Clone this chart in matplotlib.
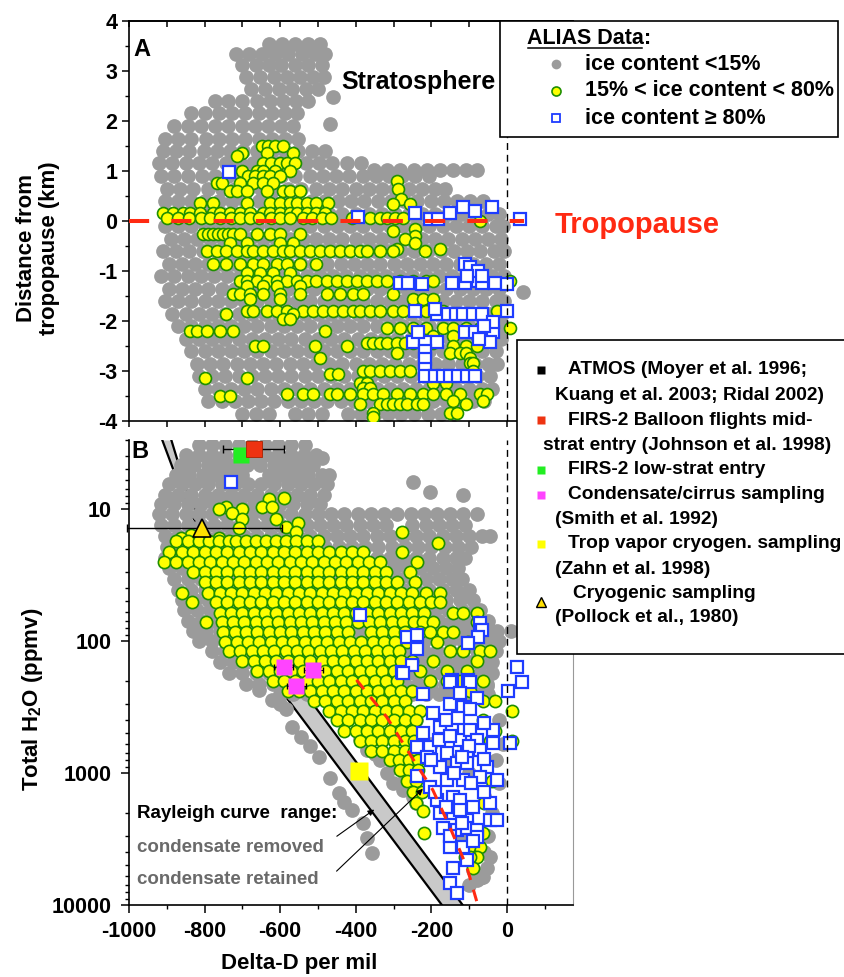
import matplotlib
matplotlib.use("Agg")
import matplotlib.pyplot as plt
from matplotlib import ticker
from matplotlib.lines import Line2D
from matplotlib.patches import Rectangle

plt.rcParams["font.family"] = ["Liberation Sans", "DejaVu Sans"]
plt.rcParams["font.weight"] = "bold"
plt.rcParams["axes.unicode_minus"] = False
plt.rcParams["mathtext.fontset"] = "custom"
plt.rcParams["mathtext.rm"] = "Liberation Sans:bold"
plt.rcParams["mathtext.bf"] = "Liberation Sans:bold"
plt.rcParams["mathtext.default"] = "rm"

# ---- panel A: delta-D vs distance from tropopause (km), rows of (km, [deltaD...])
A_GRAY_ROWS = [
    (3.55, [-630, -595, -560, -525, -495]),
    (3.35, [-718, -683, -648, -613, -578, -543, -508, -480]),
    (3.12, [-700, -665, -630, -598, -560, -525, -490]),
    (2.88, [-690, -652, -617, -582, -547, -512, -485]),
    (2.64, [-676, -640, -603, -568, -532, -500]),
    (2.48, [-460]),
    (2.4, [-772, -737, -702, -662, -627, -592, -557, -525]),
    (2.16, [-836, -800, -762, -727, -692, -657, -622, -587, -555]),
    (1.94, [-468]),
    (1.9, [-880, -845, -810, -772, -737, -702, -667, -632, -597, -565]),
    (1.65, [-905, -870, -835, -797, -762, -727, -692, -657, -622, -587, -552]),
    (1.4, [-910, -875, -840, -802, -767, -732, -697, -662, -622, -587, -552, -517, -482]),
    (1.17, [-920, -885, -850, -815, -780, -742, -707, -672, -637, -602, -567, -532, -497, -462, -422, -387]),
    (1.03, [-352, -317, -282, -247, -212, -177, -142, -107, -80]),
    (0.9, [-915, -880, -845, -807, -772, -737, -702, -667, -632, -597, -562, -522, -487, -452, -417, -382,
           -347, -312, -277, -242, -207]),
    (0.65, [-900, -865, -830, -790, -755, -720, -685, -650, -615, -580, -545, -505, -470, -435, -400, -365,
            -330, -295, -260, -225, -190, -165]),
    (0.4, [-905, -870, -835, -800, -762, -727, -692, -657, -622, -587, -552, -517, -482, -447, -412, -377,
           -342, -307, -272, -237, -202, -167, -132, -97, -62]),
    (0.15, [-890, -855, -820, -785, -750, -715, -680, -645, -610, -575, -540, -505, -470, -435, -400, -365,
            -330, -295, -260, -225, -190, -155, -120, -85, -50, -20]),
    (-0.1, [-905, -870, -835, -800, -765, -730, -695, -660, -625, -590, -555, -520, -485, -450, -415, -380,
            -345, -310, -275, -240, -205, -170, -135, -100, -65, -30, -10]),
    (-0.35, [-890, -855, -820, -785, -750, -715, -680, -645, -610, -575, -540, -505, -470, -435, -400, -365,
             -330, -295, -260, -225, -190, -155, -120, -85, -50, -15]),
    (-0.6, [-910, -875, -840, -805, -770, -735, -700, -665, -630, -595, -560, -525, -490, -455, -420, -385,
            -350, -315, -280, -245, -210, -175, -140, -105, -70, -35, -8]),
    (-0.85, [-895, -860, -825, -790, -755, -720, -685, -650, -615, -580, -545, -510, -475, -440, -405, -370,
             -335, -300, -265, -230, -195, -160, -125, -90, -55, -20]),
    (-1.1, [-915, -880, -845, -810, -775, -740, -705, -670, -635, -600, -565, -530, -495, -460, -425, -390,
            -355, -320, -285, -250, -215, -180, -145, -110, -75, -40, -8]),
    (-1.35, [-895, -860, -825, -790, -755, -720, -685, -650, -615, -580, -545, -510, -475, -440, -405, -370,
             -335, -300, -265, -230, -195, -160, -125, -90, -55, -20]),
    (-1.42, [42]),
    (-1.6, [-905, -870, -835, -800, -765, -730, -695, -660, -625, -590, -555, -520, -485, -450, -415, -380,
            -345, -310, -275, -240, -205, -170, -135, -100, -65, -30, -8]),
    (-1.85, [-885, -850, -815, -780, -745, -710, -675, -640, -605, -570, -535, -500, -465, -430, -395, -360,
             -325, -290, -255, -220, -185, -150, -115, -80, -45, -12]),
    (-2.1, [-870, -835, -800, -765, -730, -695, -660, -625, -590, -555, -520, -485, -450, -415, -380, -345,
            -310, -275, -240, -205, -170, -135, -100, -65, -30, -10]),
    (-2.35, [-850, -815, -780, -745, -710, -675, -640, -605, -570, -535, -500, -465, -430, -395, -360, -325,
             -290, -255, -220, -185, -150, -115, -80, -45, -15]),
    (-2.6, [-835, -800, -765, -730, -695, -660, -625, -590, -555, -520, -485, -450, -415, -380, -345, -310,
            -275, -240, -205, -170, -135, -100, -65, -30]),
    (-2.85, [-820, -785, -750, -715, -680, -645, -610, -575, -540, -505, -470, -435, -400, -365, -330, -295,
             -260, -225, -190, -155, -120, -85, -50, -25]),
    (-3.1, [-815, -780, -745, -710, -675, -640, -605, -570, -535, -500, -465, -430, -395, -360, -325, -290,
            -255, -220, -185, -150, -115, -80, -45]),
    (-3.35, [-800, -765, -730, -695, -660, -625, -590, -555, -520, -485, -450, -415, -380, -345, -310, -275,
             -240, -205, -170, -135, -100, -65, -40]),
    (-3.6, [-790, -755, -720, -685, -650, -615, -580, -545, -510, -475, -440, -405, -370, -335, -300, -265,
            -230, -195, -160, -125, -90, -60]),
    (-3.85, [-700, -665, -630, -560, -525, -490, -420, -385, -350, -315, -280, -245, -210, -175, -140]),
]

A_YELLOW_ROWS = [
    (1.51, [-649, -631, -614, -592]),
    (1.37, [-702, -636, -565]),
    (1.31, [-715]),
    (1.17, [-645, -623, -601, -583, -561]),
    (1.01, [-702, -662, -645, -614, -574]),
    (0.91, [-684, -666, -645, -627, -600]),
    (0.81, [-292]),
    (0.77, [-768, -755, -706, -671, -645, -620]),
    (0.64, [-287]),
    (0.6, [-733, -715, -689, -636, -592, -574, -548]),
    (0.44, [-279]),
    (0.37, [-812, -777, -689, -627, -600, -574, -556, -530, -504, -473]),
    (0.34, [-301, -257]),
    (0.17, [-909, -883, -856, -838, -812, -777, -759, -733, -706, -680, -645, -627, -600, -574, -556, -530,
            -504, -481]),
    (0.07, [-900, -870, -840, -810, -785, -760, -730, -705, -680, -655, -625, -600, -575, -540, -515, -490,
            -465, -410, -362, -335, -318, -297, -275]),
    (0.0, [-71]),
    (-0.16, [-243]),
    (-0.19, [-301]),
    (-0.26, [-803, -790, -777, -764, -750, -737, -724, -706, -662, -627, -600, -548]),
    (-0.29, [-243]),
    (-0.36, [-270]),
    (-0.43, [-733, -689, -600, -565, -243]),
    (-0.56, [-292, -177]),
    (-0.59, [-794, -768, -742, -715, -689, -671, -645, -618, -592, -574, -548, -521, -495, -468, -442, -415,
             -389, -371, -336, -301, -217]),
    (-0.86, [-777, -742, -706, -671, -645, -609, -583, -548, -504]),
    (-1.03, [-689, -653, -618, -574]),
    (-1.2, [-706, -689, -662, -636, -609, -583, -556, -530, -504, -477, -450, -424, -397, -371, -345, -318,
            -283, -248, -213, -195, 8]),
    (-1.29, [-689, -645, -609, -548]),
    (-1.46, [-724, -706, -680, -645, -600, -548, -477, -442, -407, -380, -301]),
    (-1.56, [-680, -600, -248, -221, -195]),
    (-1.79, [-689, -671, -636, -609, -583, -539, -512, -486, -459, -433, -406, -389, -362, -336, -301, -274,
             -213, -168, -27]),
    (-1.86, [-742, -565]),
    (-1.96, [-592, -574]),
    (-2.13, [-318, -283, -248, -213, -168, -142, -107, -71, 8]),
    (-2.2, [-838, -821, -794, -759, -724, -481]),
    (-2.29, [-195, -142, -80]),
    (-2.43, [-371, -354, -336, -318, -292, -270, -248, -195]),
    (-2.49, [-667, -645, -508, -424, -142, -107, -80]),
    (-2.63, [-292, -151, -124, -107]),
    (-2.73, [-495, -98]),
    (-2.83, [-98, -89]),
    (-2.99, [-380, -362, -336, -310, -283, -257, -89]),
    (-3.06, [-468, -446]),
    (-3.13, [-799, -689]),
    (-3.23, [-389, -371, -195, -160]),
    (-3.33, [-380, -362]),
    (-3.46, [-583, -539, -512, -468, -450, -415, -380, -354, -327, -292, -257, -221, -195, -160, -124, -71,
             -53]),
    (-3.5, [-759, -733]),
    (-3.59, [-142, -62]),
    (-3.66, [-389, -336, -318, -301, -283, -265, -239, -221, -107]),
    (-3.83, [-354, -151, -133]),
    (-3.92, [-353]),
]

A_BLUE = [
    (-735, 0.99), (-394, 0.08), (-243, 0.17), (-204, 0.04), (-183, 0.04), (-151, 0.17), (-116, 0.28),
    (-85, 0.2), (-40, 0.28), (34, 0.04),
    (-283, -1.23), (-262, -1.23), (-225, -1.25), (-146, -1.23), (-111, -1.23), (-77, -1.2), (-66, -1.23),
    (-32, -1.23), (0, -1.25),
    (-111, -0.86), (-98, -0.92), (-77, -1.0), (-106, -1.1), (-66, -1.1),
    (-243, -1.8), (-185, -1.85), (-156, -1.85), (-135, -1.85), (-116, -1.85), (-90, -1.85), (-66, -1.85),
    (0, -1.8), (-190, -1.75),
    (-111, -2.22), (-85, -2.22), (-53, -2.22), (-37, -2.22), (-37, -2.02), (-60, -2.1),
    (-248, -2.42), (-217, -2.42), (-185, -2.42), (-45, -2.42), (-235, -2.22), (-75, -2.35),
    (-217, -2.6), (-217, -2.76), (-217, -2.96),
    (-217, -3.1), (-190, -3.1), (-169, -3.1), (-151, -3.1), (-130, -3.1), (-106, -3.1), (-85, -3.1),
]

TROPOPAUSE_KM = 0.0
TROPOPAUSE_END_DD = 45

# ---- panel B: delta-D vs total water (ppmv), rows of (ppmv, [deltaD...])
B_GRAY_ROWS = [
    (3.3, [-815, -780, -745, -710, -675, -640, -605, -570, -535]),
    (3.9, [-850, -815, -780, -745, -710, -675, -640, -605, -570, -538, -505]),
    (4.1, [-488]),
    (4.6, [-862, -827, -792, -757, -722, -687, -652, -617, -582, -547, -512]),
    (5.5, [-875, -840, -805, -770, -735, -700, -630, -595, -560, -525, -490, -470]),
    (6.2, [-249]),
    (6.5, [-895, -860, -825, -790, -755, -720, -685, -650, -615, -580, -545, -510, -475]),
    (7.4, [-204]),
    (7.8, [-905, -870, -835, -800, -765, -730, -695, -660, -625, -590, -555, -520, -485, -117]),
    (9.2, [-915, -880, -845, -810, -775, -740, -705, -670, -635, -600, -565, -530, -495]),
    (11, [-920, -885, -850, -815, -780, -745, -710, -675, -640, -605, -570, -535, -500, -465, -430, -395,
          -360, -325, -290, -255, -220, -185, -150, -115, -80]),
    (13.3, [-915, -880, -845, -810, -775, -740, -705, -670, -635, -600, -565, -530, -495, -460, -425, -390,
            -355, -320, -250, -215, -180, -145, -110]),
    (16, [-905, -870, -835, -800, -765, -730, -695, -660, -625, -590, -555, -520, -485, -450, -415, -380,
          -345, -310, -275, -240, -205, -170, -135, -100, -65, -45]),
    (19.5, [-900, -865, -830, -795, -760, -725, -690, -655, -620, -585, -550, -515, -480, -445, -410, -375,
            -340, -305, -270, -235, -200, -165, -130, -95]),
    (23.5, [-905, -870, -835, -800, -765, -730, -695, -660, -625, -590, -555, -520, -485, -450, -415, -380,
            -345, -310, -275, -240, -205, -170, -135, -110]),
    (28, [-895, -860, -825, -790, -755, -720, -685, -650, -615, -580, -545, -510, -475, -440, -405, -370,
          -335, -300, -265, -230, -195, -160, -130]),
    (34, [-880, -845, -810, -775, -740, -705, -670, -635, -600, -565, -530, -495, -460, -425, -390, -355,
          -320, -285, -250, -215, -180, -145, -120]),
    (41, [-870, -835, -800, -765, -730, -695, -660, -625, -590, -555, -520, -485, -450, -415, -380, -345,
          -310, -275, -240, -205, -170, -135, -100]),
    (49, [-860, -825, -790, -755, -720, -685, -650, -615, -580, -545, -510, -475, -440, -405, -370, -335,
          -300, -265, -230, -195, -160, -125, -90]),
    (58, [-855, -820, -785, -750, -715, -680, -645, -610, -575, -540, -505, -470, -435, -400, -365, -330,
          -295, -260, -225, -190, -155, -120, -85, -70]),
    (70, [-845, -810, -775, -740, -705, -670, -635, -600, -565, -530, -495, -460, -425, -390, -355, -320,
          -285, -250, -215, -180, -145, -110, -75, -50]),
    (84, [-830, -795, -760, -725, -690, -655, -620, -585, -550, -515, -480, -445, -410, -375, -340, -305,
          -270, -235, -200, -165, -130, -95, -60, -25, 10]),
    (100, [-815, -780, -745, -710, -675, -640, -605, -570, -535, -500, -465, -430, -395, -360, -325, -290,
           -255, -220, -185, -150, -115, -80, -45, -20]),
    (120, [-780, -745, -710, -675, -640, -605, -570, -535, -500, -465, -430, -395, -360, -325, -290, -255,
           -220, -185, -150, -115, -80, -45, -30]),
    (145, [-760, -725, -690, -655, -620, -585, -550, -515, -480, -445, -410, -375, -340, -305, -270, -235,
           -200, -165, -130, -95, -60, -40]),
    (175, [-735, -700, -665, -630, -595, -560, -525, -490, -455, -420, -385, -350, -315, -280, -245, -210,
           -175, -140, -105, -70, -40]),
    (210, [-690, -655, -620, -585, -550, -515, -480, -445, -410, -375, -340, -305, -270, -235, -200, -165,
           -130, -95, -53]),
    (250, [-600, -565, -530, -495, -460, -425, -390, -355, -320, -285, -250, -215, -180, -145, -110, -75,
           -50]),
]

B_GRAY_SCATTER = [
    (-655, 236), (-621, 280), (-600, 300), (-584, 330), (-568, 447), (-544, 532), (-520, 620), (-496, 757),
    (-469, 1090), (-443, 1410), (-430, 1670), (-410, 1900), (-382, 2390), (-371, 3130), (-358, 4040),
    (-390, 550), (-371, 670), (-350, 720), (-337, 800), (-318, 1000), (-300, 900), (-302, 1200),
    (-270, 1100), (-276, 1340), (-249, 1520), (-240, 1700),
    (-240, 400), (-200, 600), (-150, 800), (-100, 1000), (-60, 1500), (-40, 2000), (-50, 3000),
    (-60, 4000), (-80, 6450), (-45, 4350), (-53, 5200), (-63, 6100), (-72, 6240), (-90, 5400),
    (-100, 7000), (-120, 3000), (-20, 1200), (-30, 800), (-10, 600), (-20, 400), (-53, 220),
]

B_YELLOW_ROWS = [
    (8.2, [-589]), (8.4, [-629]), (9.6, [-743, -647, -621]), (10, [-761, -700]), (10.7, [-727]),
    (11.9, [-700, -610]), (12.8, [-554]), (13.7, [-584]), (13.9, [-708]), (14.9, [-557]),
    (15, [-278]), (15.7, [-836]), (16.5, [-862, -761]), (18, [-183]),
    (17.5, [-875, -845, -815, -788, -761, -735, -716, -690, -663, -637, -610, -584, -557, -530, -500]),
    (21, [-894, -860, -830, -800, -770, -740, -710, -680, -650, -620, -590, -560, -530, -500, -470, -440,
          -410, -380, -278]),
    (25, [-907, -875, -845, -815, -785, -755, -725, -695, -665, -635, -605, -575, -545, -515, -485, -455,
          -425, -395, -365, -335, -239]),
    (30, [-830, -800, -770, -740, -710, -680, -650, -620, -590, -560, -530, -500, -470, -440, -410, -380,
          -350, -320, -257]),
    (36, [-800, -770, -740, -710, -680, -650, -620, -590, -560, -530, -500, -470, -440, -410, -380, -350,
          -320, -290, -244]),
    (43, [-860, -790, -760, -730, -700, -670, -640, -610, -580, -550, -520, -490, -460, -430, -400, -370,
          -340, -310, -280, -250, -215, -178]),
    (51, [-833, -770, -740, -710, -680, -650, -620, -590, -560, -530, -500, -470, -440, -410, -380, -350,
          -320, -290, -260, -230, -200, -178]),
    (61, [-760, -730, -700, -670, -640, -610, -580, -550, -520, -490, -460, -430, -400, -370, -340, -310,
          -280, -250, -220, -143, -117, -80]),
    (72, [-796, -755, -725, -695, -665, -635, -605, -575, -545, -515, -485, -455, -425, -395, -365, -335,
          -305, -275, -245, -223, -196, -80]),
    (86, [-750, -720, -690, -660, -630, -600, -570, -540, -510, -480, -450, -420, -360, -330, -300, -270,
          -231, -204, -170, -143]),
    (102, [-745, -715, -685, -655, -625, -595, -565, -535, -505, -475, -445, -415, -385, -355, -325, -295,
           -265, -186, -103]),
    (120, [-735, -705, -675, -645, -615, -585, -555, -525, -495, -465, -435, -405, -375, -345, -315, -285,
           -151, -117, -71, -45]),
    (142, [-700, -670, -640, -610, -580, -550, -520, -490, -460, -430, -400, -370, -340, -310, -280, -250,
           -196, -80]),
    (168, [-660, -630, -600, -570, -540, -510, -480, -450, -420, -390, -360, -330, -300, -231, -159, -106]),
    (200, [-620, -590, -560, -530, -500, -470, -440, -410, -380, -350, -320, -290, -204, -159, -124, -63]),
    (240, [-580, -550, -520, -490, -460, -430, -400, -370, -340, -310, -280, -250, -98]),
    (285, [-510, -480, -450, -420, -390, -360, -330, -300, -270, -63, -32]),
    (340, [-470, -440, -410, -380, -350, -320, -290, -260, -230, 13]),
    (400, [-450, -420, -390, -360, -330, -300, -270, -240, -63]),
    (480, [-430, -400, -370, -340, -310, -280, -250, -32]),
    (570, [-390, -360, -330, -300, -270, -245, -45, 13]),
    (680, [-360, -330, -300, -270, -245]),
    (800, [-310, -285, -260, -235]),
    (950, [-284, -260, -235]),
    (1150, [-265, -240, -40]),
    (1400, [-249, -225]),
    (1700, [-240, -60]),
    (1950, [-223]),
    (2850, [-218, -63]),
    (3650, [-71, -100]),
    (4350, [-80, -98, -112]),
    (5200, [-90]),
]

B_BLUE = [
    (-729, 6.2), (-390, 63.5),
    (-265, 93), (-239, 90), (-239, 115), (-278, 172), (-252, 152), (-276, 175),
    (-71, 73), (-66, 83), (-77, 93), (-103, 103),
    (27, 157), (40, 205), (3, 240), (8, 595),
    (-146, 197), (-103, 197), (-151, 205), (-98, 205),
    (-223, 250), (-151, 300), (-124, 248), (-80, 270), (-117, 315), (-196, 350), (-98, 330),
    (-223, 500), (-178, 445), (-146, 445), (-124, 563), (-98, 473), (-37, 473), (-80, 563), (-37, 595),
    (-239, 635), (-204, 635), (-159, 710), (-106, 710), (-71, 670), (-212, 760), (-178, 900),
    (-133, 840), (-106, 840), (-53, 900),
    (-239, 1050), (-204, 1270), (-159, 1130), (-117, 1130), (-71, 1070), (-27, 1130),
    (-186, 1600), (-143, 1520), (-124, 1600), (-90, 1800), (-45, 1700), (-45, 2260), (-27, 2260),
    (-178, 2000), (-143, 2000), (-106, 2260), (-170, 2600), (-133, 2700), (-106, 2600), (-80, 2700),
    (-151, 3650), (-117, 3650), (-80, 3050), (-143, 5200), (-106, 4550), (-151, 6800), (-133, 8100),
    (-160, 400), (-130, 380), (-60, 420), (-180, 560), (-150, 520), (-100, 620), (-60, 780),
    (-190, 1400), (-160, 1800), (-60, 1400), (-120, 2400), (-90, 3300), (-150, 3000), (-125, 1900),
    (-95, 1200), (-140, 1000), (-200, 800), (-120, 750),
]

# literature points: (deltaD, ppmv, err_low, err_high)
FIRS2_MID = (-668, 3.5, 83, 79)
FIRS2_LOW = (-703, 3.9)
CIRRUS_DD = [-590, -557, -512]
CIRRUS_H2O = [157, 220, 166]
ZAHN = (-392, 970)
POLLOCK = (-806, 14, 200, 212)

# Rayleigh range and condensate-retained curve
RAYLEIGH_H2O = [3, 8.5, 40, 172, 10000]
RAYLEIGH_REMOVED = [-912, -853, -740, -634, -172]
RAYLEIGH_RETAINED = [-888, -840, -705, -576, -117]
RETAINED_DD = [-398, -318, -252, -196, -151, -106, -77]
RETAINED_H2O = [197, 377, 757, 1345, 2563, 5150, 10000]

GRAY = "#9b9b9b"
YELLOW = "#ffff00"
GREEN = "#1f8f00"
BLUE = "#1e3cff"
RED = "#ff2a12"
XLIM = (-1000, 175)

W, H = 844, 977


def unpack(rows):
    xs = [x for _, row in rows for x in row]
    ys = [y for y, row in rows for _ in row]
    return xs, ys


fig = plt.figure(figsize=(W / 100, H / 100), dpi=100)


def fx(px):
    return px / W


def fy(py):
    return 1 - py / H


def put(px, py, s, **kw):
    kw.setdefault("va", "center")
    kw.setdefault("weight", "bold")
    fig.text(fx(px), fy(py), s, **kw)


ax_a = fig.add_axes([fx(129), fy(421), fx(573) - fx(129), fy(21) - fy(421)])
ax_b = fig.add_axes([fx(129), fy(905), fx(573) - fx(129), fy(440) - fy(905)])

# ---- panel A
gx, gy = unpack(A_GRAY_ROWS)
ax_a.plot(gx, gy, "o", ms=10.6, mfc=GRAY, mec="none", zorder=2)
yx, yy = unpack(A_YELLOW_ROWS)
ax_a.plot(yx, yy, "o", ms=8.6, mfc=YELLOW, mec=GREEN, mew=1.2, zorder=3)
ax_a.plot([p[0] for p in A_BLUE], [p[1] for p in A_BLUE], "s", ms=8.4, mfc="white",
          mec=BLUE, mew=1.6, zorder=4)
ax_a.hlines(TROPOPAUSE_KM, XLIM[0], TROPOPAUSE_END_DD, color=RED, lw=2.9,
            linestyles=(0, (5, 5.5)), zorder=6)
ax_a.axvline(0, color="k", lw=1, dashes=(5, 3.5), zorder=7)

ax_a.set_xlim(*XLIM)
ax_a.set_ylim(-4, 4)
ax_a.spines["right"].set_visible(False)
for s in ("left", "bottom", "top"):
    ax_a.spines[s].set_linewidth(1.2)
ax_a.yaxis.set_major_locator(ticker.MultipleLocator(1))
ax_a.yaxis.set_minor_locator(ticker.MultipleLocator(0.5))
ax_a.xaxis.set_major_locator(ticker.MultipleLocator(100))
ax_a.tick_params(axis="y", which="major", direction="out", length=5, width=1.1,
                 labelsize=15.5, pad=3.5)
ax_a.tick_params(axis="y", which="minor", direction="out", length=3, width=1)
ax_a.tick_params(axis="x", which="major", direction="out", length=4.5, width=1.1,
                 labelbottom=False)
top = ax_a.secondary_xaxis("top")
top.xaxis.set_major_locator(ticker.MultipleLocator(100))
top.tick_params(direction="in", length=4.5, width=1.1, labeltop=False)
top.spines["top"].set_linewidth(1.2)

# ---- panel B
ax_b.set_yscale("log")
ax_b.fill_betweenx(RAYLEIGH_H2O, RAYLEIGH_REMOVED, RAYLEIGH_RETAINED, color="#c9c9c9", lw=0, zorder=1)
ax_b.plot(RAYLEIGH_REMOVED, RAYLEIGH_H2O, color="k", lw=1.6, zorder=1.2)
ax_b.plot(RAYLEIGH_RETAINED, RAYLEIGH_H2O, color="k", lw=1.6, zorder=1.2)

gx, gy = unpack(B_GRAY_ROWS)
gx += [p[0] for p in B_GRAY_SCATTER]
gy += [p[1] for p in B_GRAY_SCATTER]
ax_b.plot(gx, gy, "o", ms=10.6, mfc=GRAY, mec="none", zorder=2)
yx, yy = unpack(B_YELLOW_ROWS)
ax_b.plot(yx, yy, "o", ms=8.8, mfc=YELLOW, mec=GREEN, mew=1.2, zorder=3)
ax_b.plot([p[0] for p in B_BLUE], [p[1] for p in B_BLUE], "s", ms=9, mfc="white",
          mec=BLUE, mew=1.6, zorder=4)

ax_b.errorbar(FIRS2_MID[0], FIRS2_MID[1], xerr=[[FIRS2_MID[2]], [FIRS2_MID[3]]], fmt="none",
              ecolor="k", elinewidth=1, capsize=3, zorder=5)
ax_b.plot(FIRS2_LOW[0], FIRS2_LOW[1], "s", ms=11.5, mfc="#22ee22", mec="none", zorder=5)
ax_b.plot(FIRS2_MID[0], FIRS2_MID[1], "s", ms=11.5, mfc="#ee3311", mec="#aa2200", mew=0.6, zorder=5.1)
ax_b.errorbar(CIRRUS_DD, CIRRUS_H2O, xerr=25, fmt="none", ecolor="k", elinewidth=0.8, capsize=2,
              zorder=5)
ax_b.plot(CIRRUS_DD, CIRRUS_H2O, "s", ms=11, mfc="#ff44ff", mec="none", zorder=5)
ax_b.plot(ZAHN[0], ZAHN[1], "s", ms=13, mfc="#ffff00", mec="none", zorder=5)
ax_b.errorbar(POLLOCK[0], POLLOCK[1], xerr=[[POLLOCK[2]], [POLLOCK[3]]], fmt="none", ecolor="k",
              elinewidth=1, capsize=3, zorder=5, clip_on=False)
ax_b.plot(POLLOCK[0], POLLOCK[1], "^", ms=13, mfc="#ffe000", mec="k", mew=1.2, zorder=5.2)

ax_b.plot(RETAINED_DD, RETAINED_H2O, color=RED, lw=2.2, dashes=(3.9, 3.3), zorder=6)
ax_b.axvline(0, color="k", lw=1, dashes=(5, 3.5), zorder=7)

ax_b.annotate("", xy=(-345, 1840), xytext=(-456, 3100),
              arrowprops=dict(arrowstyle="-|>", color="k", lw=0.8, mutation_scale=9), zorder=8)
ax_b.annotate("", xy=(-217, 1275), xytext=(-456, 5730),
              arrowprops=dict(arrowstyle="-|>", color="k", lw=0.8, mutation_scale=9), zorder=8)

ax_b.set_xlim(*XLIM)
ax_b.set_ylim(10000, 3)
ax_b.spines["top"].set_visible(False)
ax_b.spines["right"].set_color("#999999")
ax_b.spines["right"].set_linewidth(0.8)
for s in ("left", "bottom"):
    ax_b.spines[s].set_linewidth(1.2)
ax_b.set_yticks([10, 100, 1000, 10000])
ax_b.yaxis.set_major_formatter(ticker.FuncFormatter(lambda v, _: f"{v:g}"))
ax_b.yaxis.set_minor_locator(ticker.LogLocator(base=10, subs=range(2, 10)))
ax_b.yaxis.set_minor_formatter(ticker.NullFormatter())
ax_b.xaxis.set_major_locator(ticker.FixedLocator([-1000, -800, -600, -400, -200, 0]))
ax_b.xaxis.set_minor_locator(ticker.MultipleLocator(100))
ax_b.tick_params(axis="both", which="major", direction="out", length=5.5, width=1.1, labelsize=15.5)
ax_b.tick_params(axis="y", which="major", pad=7)
ax_b.tick_params(axis="x", which="major", pad=6)
ax_b.tick_params(axis="both", which="minor", direction="out", length=3, width=1)

# ---- labels and annotations
put(142, 50, "A", fontsize=17, ha="center")
put(140, 452, "B", fontsize=17, ha="center")
put(418, 82, "Stratosphere", fontsize=18, ha="center")
put(637, 225, "Tropopause", fontsize=21, ha="center", color=RED)
put(38, 248, "Distance from\ntropopause (km)", fontsize=16, ha="center", rotation=90,
    linespacing=1.15)
put(33, 699, "Total H$_2$O (ppmv)", fontsize=16, ha="center", rotation=90)
put(299, 963, "Delta-D per mil", fontsize=16, ha="center")
put(137, 813, "Rayleigh curve  range:", fontsize=13.5, ha="left")
put(137, 847, "condensate removed", fontsize=13.5, ha="left", color="#6a6a6a")
put(137, 879, "condensate retained", fontsize=13.5, ha="left", color="#6a6a6a")

# ---- legend for panel A
fig.add_artist(Rectangle((fx(500), fy(137)), fx(838) - fx(500), fy(21) - fy(137),
                         transform=fig.transFigure, fc="white", ec="k", lw=1.2, zorder=10))
put(527, 38, "ALIAS Data:", fontsize=15.5, ha="left", zorder=11)
fig.add_artist(Line2D([fx(528), fx(642)], [fy(48), fy(48)], transform=fig.transFigure,
                      color="k", lw=1.1, zorder=11))
legend_a = [
    (64, "ice content <15%", dict(marker="o", ms=7, mfc=GRAY, mec="none")),
    (91, "15% < ice content < 80%", dict(marker="o", ms=6.5, mfc=YELLOW, mec=GREEN, mew=1.2)),
    (118, "ice content \u2265 80%", dict(marker="s", ms=6, mfc="white", mec=BLUE, mew=1.3)),
]
for py, label, style in legend_a:
    fig.add_artist(Line2D([fx(556)], [fy(py)], transform=fig.transFigure, ls="none", zorder=11, **style))
    put(585, py, label, fontsize=15.5, ha="left", zorder=11)

# ---- legend for panel B
fig.add_artist(Rectangle((fx(517), fy(654)), 1.0 - fx(517) + 0.02, fy(340) - fy(654),
                         transform=fig.transFigure, fc="white", ec="k", lw=1.2, zorder=10))
legend_b = [
    (370, 568, "ATMOS (Moyer et al. 1996;", dict(marker="s", ms=6, mfc="k", mec="none")),
    (395, 555, "Kuang et al. 2003; Ridal 2002)", None),
    (420, 568, "FIRS-2 Balloon flights mid-", dict(marker="s", ms=6, mfc="#ee3311", mec="none")),
    (445, 543, "strat entry (Johnson et al. 1998)", None),
    (470, 568, "FIRS-2 low-strat entry", dict(marker="s", ms=6, mfc="#22ee22", mec="none")),
    (495, 568, "Condensate/cirrus sampling", dict(marker="s", ms=6, mfc="#ff44ff", mec="none")),
    (519, 555, "(Smith et al. 1992)", None),
    (544, 568, "Trop vapor cryogen. sampling", dict(marker="s", ms=6, mfc="#ffff00", mec="none")),
    (569, 555, "(Zahn et al. 1998)", None),
    (593, 573, "Cryogenic sampling", dict(marker="^", ms=7.5, mfc="#ffe000", mec="k", mew=1)),
    (617, 555, "(Pollock et al., 1980)", None),
]
for py, px, label, style in legend_b:
    if style is not None:
        my = py + 9 if style["marker"] == "^" else py
        fig.add_artist(Line2D([fx(541)], [fy(my)], transform=fig.transFigure, ls="none", zorder=11,
                              **style))
    put(px, py, label, fontsize=13.8, ha="left", zorder=11)

fig.savefig("out.png", dpi=100)
